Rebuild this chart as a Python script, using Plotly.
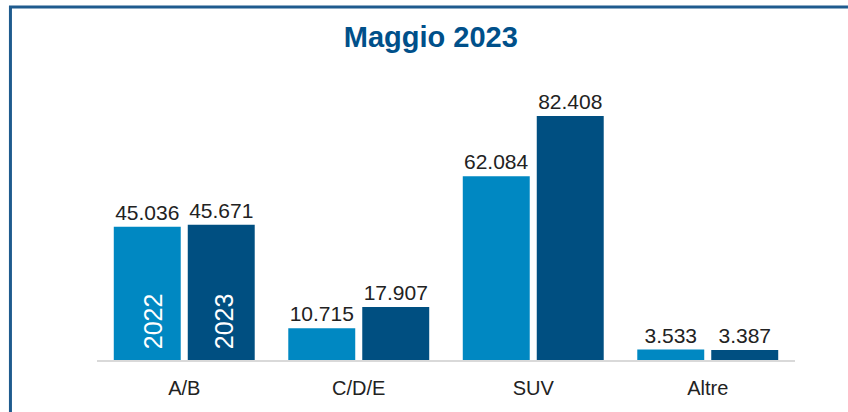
import plotly.graph_objects as go

categorie = ["A/B", "C/D/E", "SUV", "Altre"]
anni = ["2022", "2023"]
valori_2022 = [45036, 10715, 62084, 3533]
valori_2023 = [45671, 17907, 82408, 3387]

colori = {"2022": "#0088C2", "2023": "#004F81"}
FONT = "Arial, Liberation Sans, sans-serif"

fig = go.Figure()
for anno, valori in zip(anni, [valori_2022, valori_2023]):
    fig.add_trace(go.Bar(
        x=categorie, y=valori, name=anno,
        marker=dict(color=colori[anno], line=dict(width=0)),
        texttemplate="%{y:,.0f}", textposition="outside",
        textfont=dict(size=21, color="#222222", family=FONT),
        constraintext="none", cliponaxis=False,
    ))

# etichette anno ruotate dentro le prime barre
for anno, shift in zip(anni, [-31, 40]):
    fig.add_annotation(x=categorie[0], y=0, xref="x", yref="y",
        text=anno, textangle=-90, showarrow=False,
        yanchor="bottom", yshift=9, xshift=shift,
        font=dict(size=25, color="white", family=FONT))

# cornice (sinistra + alto)
fig.add_shape(type="path", xref="paper", yref="paper",
    path="M -0.124,-0.186 L -0.124,1.2607 L 1.0759,1.2607",
    line=dict(color="#1F5B8E", width=3))

fig.update_layout(
    width=848, height=412,
    separators=",.",
    barmode="group", bargap=0.152, bargroupgap=0.095,
    showlegend=False,
    paper_bgcolor="white", plot_bgcolor="white",
    margin=dict(l=97, r=53, t=80, b=52),
    font=dict(family=FONT, color="#222222"),
    title=dict(text="<b>Maggio 2023</b>", x=0.508, xanchor="center",
               y=1 - 37 / 412, yanchor="middle",
               font=dict(size=29, color="#00508A", family=FONT)),
    xaxis=dict(showline=True, linecolor="#D9D9D9", linewidth=2,
               ticks="", ticklabelstandoff=9,
               tickfont=dict(size=20, color="#222222")),
    yaxis=dict(range=[0, 94560], visible=False, showgrid=False),
)

fig.write_html("out.html", config={"displayModeBar": False},
               post_script="document.body.style.margin='0';"
                           "document.body.style.overflow='hidden';"
                           "document.documentElement.style.overflow='hidden';")
